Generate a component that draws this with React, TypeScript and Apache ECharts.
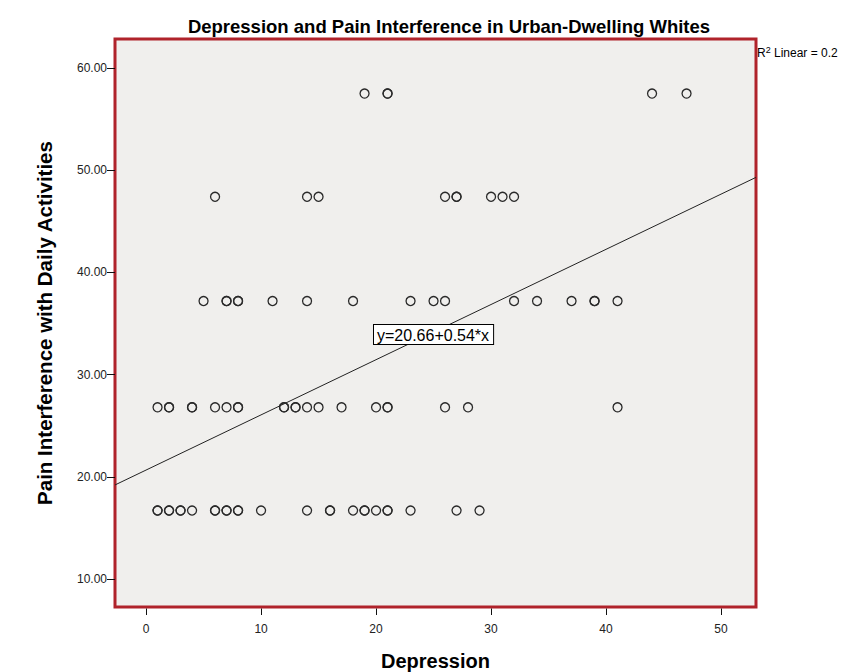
import React, { useEffect, useRef } from "react";
import * as echarts from "echarts";

const titleText = "Depression and Pain Interference in Urban-Dwelling Whites";
const xAxisName = "Depression";
const yAxisName = "Pain Interference with Daily Activities";
const xTicks = [0, 10, 20, 30, 40, 50];
const yTicks = [10, 20, 30, 40, 50, 60];
const xRange = [-2.7, 53.04];
const yRange = [7.26, 62.84];

// Pain interference levels (rows of points)
const levels = [57.5, 47.4, 37.2, 26.8, 16.7];
// Depression scores at each level (repeats = overlapping points)
const row1 = [19, 21, 21, 44, 47];
const row2 = [6, 14, 15, 26, 27, 27, 30, 31, 32];
const row3 = [5, 7, 7, 8, 8, 11, 14, 18, 23, 25, 26, 32, 34, 37, 39, 39, 41];
const row4 = [1, 2, 2, 4, 4, 6, 7, 8, 8, 12, 12, 13, 13, 14, 15, 17, 20, 21, 21, 26, 28, 41];
const row5 = [1, 1, 2, 2, 3, 3, 4, 6, 6, 7, 7, 8, 8, 10, 14, 16, 16, 18, 19, 19, 20, 21, 21, 23, 27, 29];
const rows = [row1, row2, row3, row4, row5];

// Fit line: y = intercept + slope * x
const intercept = 20.66;
const slope = 0.54;
const equationText = "y=20.66+0.54*x";
const r2Text = "Linear = 0.2";

const boldFont = "'Liberation Sans', Arial, sans-serif";
const regFont = "'Liberation Sans', Arial, sans-serif";
const borderRed = "#b0232b";

export default function App() {
  const ref = useRef<HTMLDivElement>(null);
  useEffect(() => {
    if (!ref.current) return;
    const chart = echarts.init(ref.current, null, { renderer: "svg" });
    const points: number[][] = [];
    rows.forEach((r, i) => r.forEach((x) => points.push([x, levels[i]])));
    const lineData = [
      [xRange[0], intercept + slope * xRange[0]],
      [xRange[1], intercept + slope * xRange[1]],
    ];
    const baseGraphics: any[] = [
      {
        type: "text",
        x: 374,
        y: 325,
        z: 10,
        style: {
          text: equationText,
          fontFamily: regFont,
          fontSize: 16,
          fill: "#000",
          backgroundColor: "#fff",
          borderColor: "#000",
          borderWidth: 1,
          padding: [2, 4, 1, 3],
        },
      },
      {
        type: "text",
        x: 757,
        y: 45,
        style: {
          text: "R{sup|2} " + r2Text,
          fontFamily: regFont,
          fontSize: 12,
          fill: "#000",
          rich: { sup: { fontSize: 9, verticalAlign: "top", fontFamily: regFont, fill: "#000", padding: [0, 0, 6, 0] } },
        },
      },
    ];
    chart.setOption({
      animation: false,
      backgroundColor: "#ffffff",
      title: {
        text: titleText,
        left: 444,
        top: 12,
        textAlign: "center",
        textStyle: { fontFamily: boldFont, fontWeight: "bold", fontSize: 18.5, color: "#000" },
      },
      grid: {
        left: 115,
        right: 99,
        top: 39,
        bottom: 65,
        show: true,
        outerBoundsMode: "none",
        containLabel: false,
        backgroundColor: "#f0efed",
        borderColor: borderRed,
        borderWidth: 3,
      },
      xAxis: {
        type: "value",
        min: xRange[0],
        max: xRange[1],
        name: xAxisName,
        nameLocation: "middle",
        nameGap: 44,
        nameTextStyle: { fontFamily: boldFont, fontWeight: "bold", fontSize: 20, color: "#000" },
        axisLine: { show: false, onZero: false },
        splitLine: { show: false },
        axisTick: { show: false },
        axisLabel: {
          customValues: xTicks,
          fontFamily: regFont,
          fontSize: 12,
          color: "#222",
          margin: 16,
        },
      },
      yAxis: {
        type: "value",
        min: yRange[0],
        max: yRange[1],
        name: yAxisName,
        nameLocation: "middle",
        nameGap: 60,
        nameTextStyle: { fontFamily: boldFont, fontWeight: "bold", fontSize: 20.5, color: "#000" },
        axisLine: { show: false, onZero: false },
        splitLine: { show: false },
        axisTick: { show: true, inside: false, customValues: yTicks, length: 8, lineStyle: { color: "#111", width: 1 } },
        axisLabel: {
          customValues: yTicks,
          fontFamily: regFont,
          fontSize: 12,
          color: "#222",
          margin: 8,
          formatter: (v: number) => v.toFixed(2),
        },
      },
      series: [
        {
          type: "line",
          data: lineData,
          symbol: "none",
          lineStyle: { color: "#222", width: 1 },
          silent: true,
          z: 3,
        },
        {
          type: "scatter",
          data: points,
          symbol: "circle",
          symbolSize: 9,
          itemStyle: { color: "rgba(0,0,0,0)", borderColor: "#2a2a2a", borderWidth: 1.3, opacity: 1 },
          z: 4,
        },
      ],
      graphic: baseGraphics,
    });
    try {
      const tickGraphics: any[] = [];
      xTicks.forEach((v) => {
        const p = chart.convertToPixel({ gridIndex: 0 }, [v, yRange[0]]) as number[];
        if (p && isFinite(p[0]) && isFinite(p[1])) {
          const xp = Math.round(p[0]) + 0.5;
          tickGraphics.push({
            type: "line",
            z: 10,
            silent: true,
            shape: { x1: xp, y1: p[1] + 1.5, x2: xp, y2: p[1] + 8 },
            style: { stroke: "#111", lineWidth: 1 },
          });
        }
      });
      chart.setOption({ graphic: [...baseGraphics, ...tickGraphics] });
    } catch (e) {
      // keep chart without extra ticks
    }
    return () => chart.dispose();
  }, []);
  return <div ref={ref} style={{ position: "fixed", left: 0, top: 0, width: 855, height: 672 }} />;
}
